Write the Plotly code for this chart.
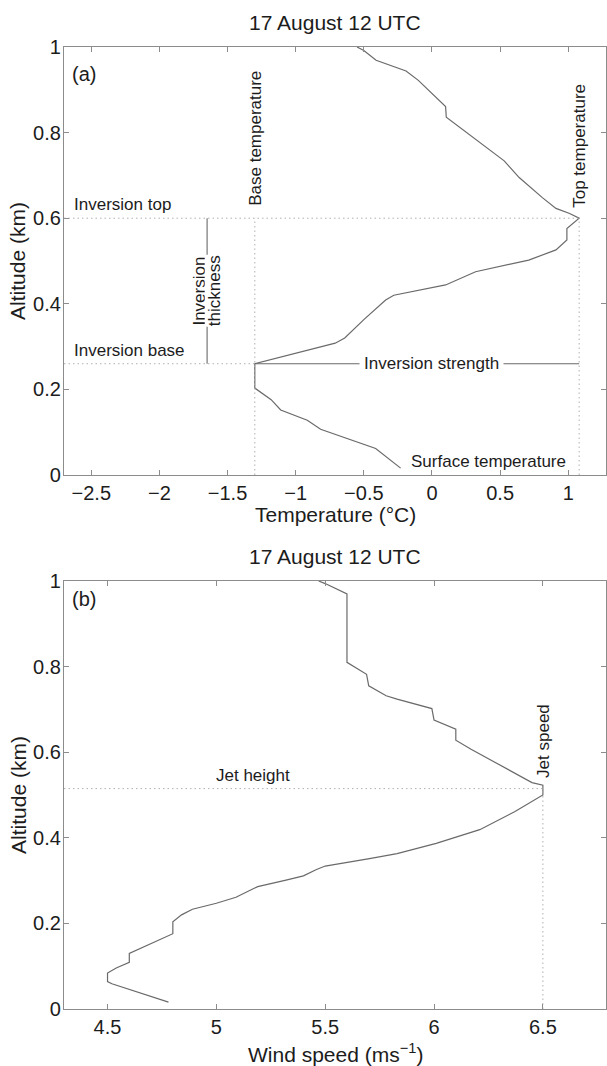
import plotly.graph_objects as go

# ---- Panel (a): temperature profile, 17 August 12 UTC ----
temp_alt_km = [1.000, 0.992, 0.969, 0.944, 0.922, 0.861, 0.836, 0.734, 0.695,
               0.648, 0.623, 0.611, 0.600, 0.576, 0.549, 0.526, 0.502, 0.475,
               0.444, 0.420, 0.409, 0.363, 0.320, 0.308, 0.260, 0.203, 0.176,
               0.152, 0.128, 0.107, 0.062, 0.016]
temp_c = [-0.55, -0.50, -0.41, -0.19, -0.10, 0.10, 0.105, 0.53, 0.64,
          0.81, 0.91, 1.01, 1.08, 0.99, 0.99, 0.91, 0.71, 0.32,
          0.10, -0.28, -0.34, -0.50, -0.64, -0.71, -1.30, -1.30, -1.18,
          -1.11, -0.915, -0.817, -0.413, -0.23]

# Inversion characteristics
inv_base_km = 0.26
inv_top_km = 0.60
base_temp_c = -1.30
top_temp_c = 1.08

# ---- Panel (b): wind speed profile ----
wind_alt_km = [1.000, 0.994, 0.970, 0.810, 0.782, 0.755, 0.732, 0.724, 0.702,
               0.675, 0.654, 0.628, 0.607, 0.529, 0.523, 0.500, 0.461, 0.419,
               0.387, 0.363, 0.352, 0.334, 0.326, 0.311, 0.301, 0.286, 0.261,
               0.247, 0.233, 0.220, 0.204, 0.176, 0.130, 0.109, 0.096, 0.084,
               0.064, 0.059, 0.016]
wind_ms = [5.47, 5.50, 5.60, 5.60, 5.69, 5.70, 5.78, 5.83, 5.99,
           6.00, 6.10, 6.10, 6.17, 6.45, 6.50, 6.50, 6.37, 6.21,
           6.01, 5.83, 5.71, 5.50, 5.46, 5.40, 5.32, 5.19, 5.09,
           5.00, 4.89, 4.84, 4.80, 4.80, 4.60, 4.60, 4.54, 4.50,
           4.50, 4.52, 4.78]

jet_height_km = 0.515
jet_speed_ms = 6.50

# Axis ticks
alt_ticks = [0, 0.2, 0.4, 0.6, 0.8, 1]
alt_ticktext = ["0", "0.2", "0.4", "0.6", "0.8", "1"]
temp_ticks = [-2.5, -2, -1.5, -1, -0.5, 0, 0.5, 1]
wind_ticks = [4.5, 5, 5.5, 6, 6.5]

temp_range = [-2.7, 1.277]
wind_range = [4.3, 6.79]

FONT = "Liberation Sans, Arial, Helvetica, sans-serif"
TEXT = "#1c1c1c"
AXIS = "#8c8c8c"
PROFILE = "#6a6a6a"
DOTTED = "#b0b0b0"
DOT_DASH = "1.5px,3px"

fig = go.Figure()

# profile curves
fig.add_trace(go.Scatter(x=temp_c, y=temp_alt_km, mode="lines",
                         line=dict(color=PROFILE, width=1.2),
                         xaxis="x", yaxis="y", showlegend=False, hoverinfo="skip"))
fig.add_trace(go.Scatter(x=wind_ms, y=wind_alt_km, mode="lines",
                         line=dict(color=PROFILE, width=1.2),
                         xaxis="x2", yaxis="y2", showlegend=False, hoverinfo="skip"))


def dotted(xs, ys, xa, ya):
    fig.add_trace(go.Scatter(x=xs, y=ys, mode="lines",
                             line=dict(color=DOTTED, width=1, dash=DOT_DASH),
                             xaxis=xa, yaxis=ya, showlegend=False, hoverinfo="skip"))


def solid(xs, ys, xa, ya):
    fig.add_trace(go.Scatter(x=xs, y=ys, mode="lines",
                             line=dict(color=PROFILE, width=1.1),
                             xaxis=xa, yaxis=ya, showlegend=False, hoverinfo="skip"))


# (a) reference lines
dotted([temp_range[0], top_temp_c], [inv_top_km, inv_top_km], "x", "y")
dotted([temp_range[0], base_temp_c], [inv_base_km, inv_base_km], "x", "y")
dotted([base_temp_c, base_temp_c], [0, inv_top_km], "x", "y")
dotted([top_temp_c, top_temp_c], [0, inv_top_km], "x", "y")
thickness_x = -1.65
solid([thickness_x, thickness_x], [inv_base_km, inv_top_km], "x", "y")
solid([base_temp_c, top_temp_c], [inv_base_km, inv_base_km], "x", "y")

# (b) reference lines
dotted([wind_range[0], jet_speed_ms], [jet_height_km, jet_height_km], "x2", "y2")
dotted([jet_speed_ms, jet_speed_ms], [0, jet_height_km], "x2", "y2")

axis_common = dict(showline=True, linecolor=AXIS, linewidth=1.3, mirror="ticks",
                   ticks="inside", ticklen=5, tickcolor=AXIS, tickwidth=1,
                   showgrid=False, zeroline=False,
                   tickfont=dict(family=FONT, size=20, color=TEXT))

dom_a = [0.5551, 1.0]
dom_b = [0.0, 0.4449]

fig.update_layout(
    width=607, height=1066,
    margin=dict(l=64, r=1, t=47, b=57, pad=0),
    paper_bgcolor="white", plot_bgcolor="white",
    font=dict(family=FONT, color=TEXT),
    xaxis=dict(domain=[0, 1], anchor="y", range=temp_range, tickvals=temp_ticks, **axis_common),
    yaxis=dict(domain=dom_a, anchor="x", range=[0, 1], tickvals=alt_ticks,
               ticktext=alt_ticktext, ticklabelstandoff=-2, **axis_common),
    xaxis2=dict(domain=[0, 1], anchor="y2", range=wind_range, tickvals=wind_ticks, **axis_common),
    yaxis2=dict(domain=dom_b, anchor="x2", range=[0, 1], tickvals=alt_ticks,
                ticktext=alt_ticktext, ticklabelstandoff=-2, **axis_common),
)

ann = []


def label(text, x, y, xa, ya, size=17, **kw):
    d = dict(text=text, x=x, y=y, xref=xa, yref=ya, showarrow=False,
             xanchor="center", yanchor="middle",
             font=dict(family=FONT, size=size, color=TEXT))
    d.update(kw)
    ann.append(d)


# titles and axis labels (paper coordinates)
label("17 August 12 UTC", 0.5, 1.025, "paper", "paper", size=21)
label("17 August 12 UTC", 0.5, 0.4699, "paper", "paper", size=21)
label("Temperature (\u00b0C)", 0.5, 0.5144, "paper", "paper", size=21)
label("Wind speed (ms<sup>\u22121</sup>)", 0.5, -0.046, "paper", "paper", size=21)
label("Altitude (km)", -0.085, sum(dom_a) / 2, "paper", "paper", size=21, textangle=-90)
label("Altitude (km)", -0.085, sum(dom_b) / 2, "paper", "paper", size=21, textangle=-90)

# panel letters
label("(a)", 0.011, 0.985, "paper", "paper", size=20, xanchor="left", yanchor="top")
label("(b)", 0.011, 0.4395, "paper", "paper", size=20, xanchor="left", yanchor="top")

# (a) inversion annotations
label("Inversion top", -2.64, inv_top_km + 0.005, "x", "y", xanchor="left", yanchor="bottom")
label("Inversion base", -2.64, inv_base_km + 0.005, "x", "y", xanchor="left", yanchor="bottom")
label("Base temperature", base_temp_c, inv_top_km + 0.025, "x", "y",
      textangle=-90, yanchor="bottom")
label("Top temperature", top_temp_c, inv_top_km + 0.02, "x", "y",
      textangle=-90, yanchor="bottom")
label("Inversion strength", 0.0, inv_base_km, "x", "y",
      bgcolor="white", borderpad=4)
label("Inversion", thickness_x - 0.055, 0.43, "x", "y", textangle=-90,
      bgcolor="white", borderpad=0)
label("thickness", thickness_x + 0.06, 0.43, "x", "y", textangle=-90,
      bgcolor="white", borderpad=0)
label("Surface temperature", -0.17, 0.004, "x", "y", xanchor="left", yanchor="bottom")

# (b) jet annotations
label("Jet height", 5.17, jet_height_km + 0.004, "x2", "y2", yanchor="bottom")
label("Jet speed", jet_speed_ms, jet_height_km + 0.02, "x2", "y2",
      textangle=-90, yanchor="bottom")

fig.update_layout(annotations=ann)

fig.write_html("out.html")
